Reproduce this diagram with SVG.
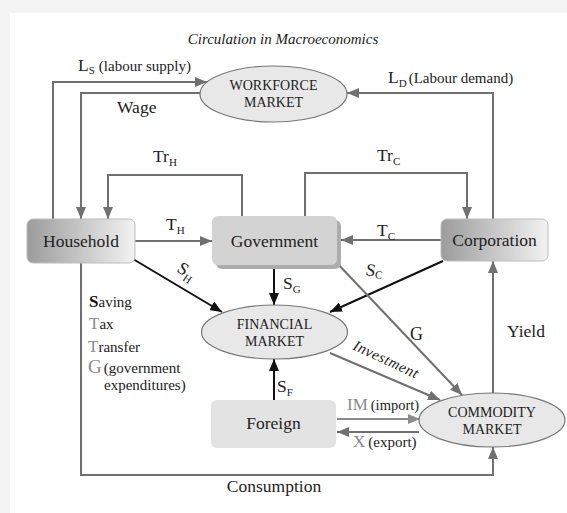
<svg xmlns="http://www.w3.org/2000/svg" width="567" height="513" viewBox="0 0 567 513">
<defs>
<linearGradient id="gbox" x1="0" y1="0" x2="1" y2="0">
<stop offset="0" stop-color="#9c9c9c"/>
<stop offset="1" stop-color="#f2f2f2"/>
</linearGradient>
<marker id="ag" viewBox="0 0 12 10" refX="12" refY="5" markerWidth="12" markerHeight="10" markerUnits="userSpaceOnUse" orient="auto"><path d="M0,0 L12,5 L0,10 z" fill="#707070"/></marker>
<marker id="ab" viewBox="0 0 12 10" refX="12" refY="5" markerWidth="12" markerHeight="10" markerUnits="userSpaceOnUse" orient="auto"><path d="M0,0 L12,5 L0,10 z" fill="#111"/></marker>
<marker id="al" viewBox="0 0 12 10" refX="12" refY="5" markerWidth="12" markerHeight="10" markerUnits="userSpaceOnUse" orient="auto"><path d="M0,0 L12,5 L0,10 z" fill="#8c8c8c"/></marker>
<style>
text{font-family:"Liberation Serif","Times New Roman",serif;fill:#222}
.node{font-size:17.5px;text-anchor:middle}
.ell{font-size:14px;text-anchor:middle}
.lbl{font-size:17.5px}
.sub{font-size:11px}
.sm{font-size:15px}
.gray{fill:#8a8a8a}
.c{fill:none;stroke:#707070;stroke-width:2}
.b{fill:none;stroke:#111;stroke-width:2}
.l{fill:none;stroke:#8c8c8c;stroke-width:2}
.e{fill:#e8e8e8;stroke:#777;stroke-width:1.2}
</style>
</defs>
<rect x="0" y="0" width="567" height="513" fill="#f4f4f4"/>
<rect x="10" y="13" width="557" height="500" fill="#ffffff"/>
<text x="283" y="44" style="font-size:15px;font-style:italic;text-anchor:middle">Circulation in Macroeconomics</text>

<g id="connectors">
<path class="c" d="M53,219 V82 H207" marker-end="url(#ag)"/>
<path class="c" d="M200,93 H81 V219" marker-end="url(#ag)"/>
<path class="c" d="M493,219 V93 H347" marker-end="url(#ag)"/>
<path class="c" d="M242,216 V175 H108 V219" marker-end="url(#ag)"/>
<path class="c" d="M305,216 V173 H467 V219" marker-end="url(#ag)"/>
<path class="c" d="M135,241 H212" marker-end="url(#ag)"/>
<path class="c" d="M441,240 H341" marker-end="url(#ag)"/>
<path class="b" d="M133,259 L222,312" marker-end="url(#ab)"/>
<path class="b" d="M274,268 V305" marker-end="url(#ab)"/>
<path class="b" d="M443,261 L330,312" marker-end="url(#ab)"/>
<path class="c" d="M336,262 L462,395" marker-end="url(#ag)"/>
<path class="c" d="M330,353 L440,400" marker-end="url(#ag)"/>
<path class="b" d="M274,400 V359" marker-end="url(#ab)"/>
<path class="l" d="M337,419 H420" marker-end="url(#al)"/>
<path class="c" d="M419,432 H337" marker-end="url(#ag)"/>
<path class="c" d="M81,263 V475 H493 V447" marker-end="url(#ag)"/>
<path class="c" d="M493,393 V261" marker-end="url(#ag)"/>

<text x="78" y="71" class="lbl">L<tspan class="sub" dy="3">S</tspan><tspan class="sm" dy="-3" dx="4">(labour supply)</tspan></text>
<text x="117" y="113" class="lbl">Wage</text>
<text x="388" y="83" class="lbl">L<tspan class="sub" dy="4">D</tspan><tspan class="sm" dy="-4" dx="2">(Labour demand)</tspan></text>
<text x="153" y="162" class="lbl">Tr<tspan class="sub" dy="4">H</tspan></text>
<text x="377" y="161" class="lbl">Tr<tspan class="sub" dy="4">C</tspan></text>
<text x="166" y="230" class="lbl">T<tspan class="sub" dy="4">H</tspan></text>
<text x="377" y="236" class="lbl">T<tspan class="sub" dy="4">C</tspan></text>
<text x="0" y="0" class="lbl" transform="translate(176,271) rotate(33)">S<tspan class="sub" dy="4">H</tspan></text>
<text x="283" y="289" class="lbl">S<tspan class="sub" dy="4">G</tspan></text>
<text x="0" y="0" class="lbl" transform="translate(365,275) rotate(10)">S<tspan class="sub" dy="1">C</tspan></text>
<text x="277" y="392" class="lbl">S<tspan class="sub" dy="4">F</tspan></text>
<text x="410" y="340" style="font-size:18px">G</text>
<text x="507" y="337" class="lbl">Yield</text>
<text x="0" y="0" transform="translate(352,349) rotate(25)" style="font-size:15px;font-style:italic" textLength="70">Investment</text>
<text x="347" y="410" style="font-size:17px" class="gray">IM<tspan style="font-size:14.5px;fill:#222" dx="3">(import)</tspan></text>
<text x="353" y="447" style="font-size:17px" class="gray">X<tspan style="font-size:15px;fill:#222" dx="3">(export)</tspan></text>
<text x="274" y="492" class="lbl" text-anchor="middle">Consumption</text>
</g>

<g id="legend">
<text x="89" y="307" class="sm"><tspan style="font-weight:bold;font-size:17px;fill:#111">S</tspan>aving</text>
<text x="89" y="329" class="sm"><tspan class="gray" style="font-size:17px">T</tspan>ax</text>
<text x="88" y="352" class="sm"><tspan class="gray" style="font-size:17px">T</tspan>ransfer</text>
<text x="88" y="373" class="sm"><tspan class="gray" style="font-size:19px">G</tspan><tspan dx="2">(government</tspan></text>
<text x="104" y="390" class="sm">expenditures)</text>
</g>

<g id="workforce-market">
<ellipse class="e" cx="273.5" cy="94" rx="73.5" ry="28"/>
<text class="ell" x="273.5" y="90">WORKFORCE</text>
<text class="ell" x="273.5" y="107">MARKET</text>
</g>
<g id="household">
<rect x="27" y="219" width="108" height="44" rx="6" fill="url(#gbox)" stroke="#bdbdbd" stroke-width="1"/>
<text class="node" x="81" y="247">Household</text>
</g>
<g id="government">
<rect x="216" y="220" width="125" height="49" rx="6" fill="#adadad"/>
<rect x="212" y="216" width="125" height="49" rx="6" fill="#d3d3d3"/>
<text class="node" x="274.5" y="247">Government</text>
</g>
<g id="corporation">
<rect x="441" y="219" width="107" height="42" rx="6" fill="url(#gbox)" stroke="#bdbdbd" stroke-width="1"/>
<text class="node" x="494.5" y="246">Corporation</text>
</g>
<g id="financial-market">
<ellipse class="e" cx="274.5" cy="332" rx="73" ry="27"/>
<text class="ell" x="274.5" y="329">FINANCIAL</text>
<text class="ell" x="274.5" y="346">MARKET</text>
</g>
<g id="foreign">
<rect x="211" y="400" width="125" height="48" rx="6" fill="#e3e3e3"/>
<text class="node" x="273.5" y="429">Foreign</text>
</g>
<g id="commodity-market">
<ellipse class="e" cx="492" cy="420" rx="73" ry="27"/>
<text class="ell" x="492" y="417">COMMODITY</text>
<text class="ell" x="492" y="434">MARKET</text>
</g>
</svg>
